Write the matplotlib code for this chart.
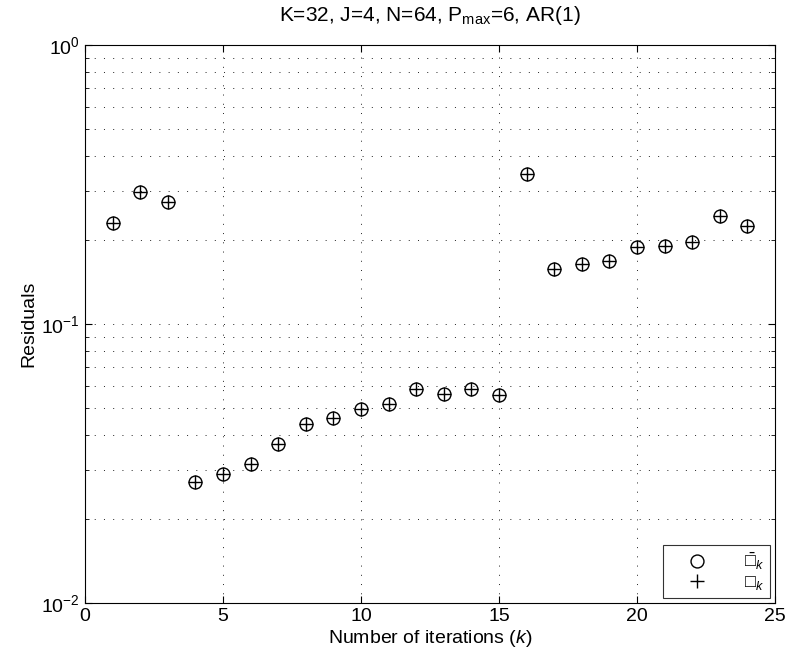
import matplotlib
matplotlib.use("Agg")
import matplotlib.pyplot as plt
from matplotlib.ticker import LogLocator, NullFormatter

plt.rcParams['font.family'] = ['Liberation Sans', 'DejaVu Sans']
plt.rcParams['mathtext.fontset'] = 'custom'
plt.rcParams['mathtext.rm'] = 'Liberation Sans'
plt.rcParams['mathtext.it'] = 'Liberation Sans:italic'
plt.rcParams['mathtext.fallback'] = 'stix'

iterations = list(range(1, 25))
res_bar = [0.230, 0.297, 0.274, 0.0271, 0.0289, 0.0315, 0.0372, 0.0437, 0.0462,
           0.0497, 0.0518, 0.0584, 0.0563, 0.0587, 0.0555, 0.346, 0.158, 0.164,
           0.168, 0.189, 0.191, 0.197, 0.244, 0.224]
res = list(res_bar)
labels = ['$\\bar{\u25a1}_k$', '$\u25a1_k$']
xticks = [0, 5, 10, 15, 20, 25]

fig = plt.figure(figsize=(7.97, 6.58), dpi=100)
ax = fig.add_axes([85/797, 1-603/658, 690/797, 558/658])

ax.plot(iterations, res_bar, linestyle='none', marker='o', markersize=9.3,
        markerfacecolor='none', markeredgecolor='black', markeredgewidth=1.0, label=labels[0])
ax.plot(iterations, res, linestyle='none', marker='+', markersize=10.3,
        color='black', markeredgewidth=1.0, label=labels[1])

ax.set_yscale('log')
ax.set_xlim(0, 25)
ax.set_ylim(1e-2, 1)
ax.set_xticks(xticks)
ax.yaxis.set_major_locator(LogLocator(base=10, numticks=5))
ax.yaxis.set_minor_locator(LogLocator(base=10, subs=range(2, 10), numticks=20))
ax.yaxis.set_minor_formatter(NullFormatter())

dots = (0, (1, 8.5))
ax.grid(True, which='major', axis='both', linestyle=dots, color='#222222', linewidth=0.7)
ax.grid(True, which='minor', axis='y', linestyle=dots, color='#222222', linewidth=0.7)

ax.tick_params(which='both', direction='in', top=True, right=True, labelsize=14)
ax.tick_params(which='major', length=5)
ax.tick_params(which='minor', length=3)
for s in ax.spines.values():
    s.set_linewidth(0.8)

ax.set_title(r'K=32, J=4, N=64, P$_{\mathrm{max}}$=6, AR(1)', fontsize=15, pad=17)
ax.set_xlabel(r'Number of iterations ($\mathit{k}$)', fontsize=14, labelpad=2)
ax.set_ylabel('Residuals', fontsize=14, labelpad=3)

leg = ax.legend(loc='lower right', fontsize=13, frameon=True, fancybox=False,
                edgecolor='black', handlelength=3.2, handletextpad=1.0,
                borderaxespad=0.3, labelspacing=0.1, borderpad=0.3)
leg.get_frame().set_linewidth(0.8)

fig.savefig('out.png', dpi=100, facecolor='white')
